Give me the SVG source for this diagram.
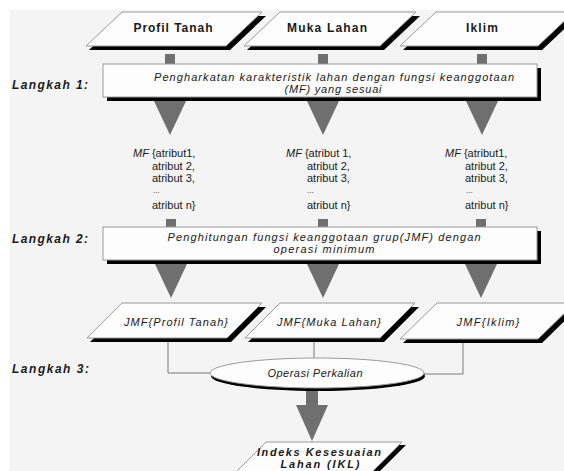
<svg xmlns="http://www.w3.org/2000/svg" width="564" height="471" viewBox="0 0 564 471">
<defs>
<style>
.bg{fill:#f4f4f4}
.shape{fill:#fdfdfd;stroke:#9a9a9a;stroke-width:1}
.shadow{fill:#000}
.arrow{fill:#6f6f6f}
.line{fill:none;stroke:#7a7a7a;stroke-width:1}
.t{font-family:"Liberation Sans",Arial,sans-serif;fill:#1a1a1a}
.hb{font-size:12px;font-weight:bold;text-anchor:middle}
.it{font-size:11px;font-style:italic;text-anchor:middle}
.lk{font-size:12px;font-weight:bold;font-style:italic}
.mf{font-size:11px}
.bi{font-size:11px;font-weight:bold;font-style:italic;text-anchor:middle}
</style>
</defs>
<rect class="bg" x="10" y="10" width="554" height="461"/>

<g id="connectors">
<rect class="arrow" x="165" y="54" width="10" height="10"/>
<rect class="arrow" x="318" y="54" width="10" height="10"/>
<rect class="arrow" x="477" y="54" width="10" height="10"/>
<path class="arrow" d="M164,97h12v4h10l-16,34l-16,-34h10z"/>
<path class="arrow" d="M317,97h12v4h10l-16,34l-16,-34h10z"/>
<path class="arrow" d="M476,97h12v4h10l-16,34l-16,-34h10z"/>
<rect class="arrow" x="166" y="219" width="10" height="10"/>
<rect class="arrow" x="318" y="219" width="10" height="10"/>
<rect class="arrow" x="476" y="219" width="10" height="10"/>
<path class="arrow" d="M165,260h12v4h10l-16,34l-16,-34h10z"/>
<path class="arrow" d="M317,260h12v4h10l-16,34l-16,-34h10z"/>
<path class="arrow" d="M475,260h12v4h10l-16,34l-16,-34h10z"/>
<polyline class="line" points="168,342 168,373 211,373"/>
<line class="line" x1="314" y1="342" x2="314" y2="358"/>
<polyline class="line" points="463,343 463,374 423,374"/>
<path class="arrow" d="M306,391h12v14h10l-16,36l-16,-36h10z"/>
</g>

<g id="profil-tanah">
<polygon class="shadow" points="125,16 266,16 230,50 89,50"/>
<polygon class="shape" points="122,12 262,12 226,46 86,46"/>
<text class="t hb" x="173" y="32" textLength="79" lengthAdjust="spacing">Profil Tanah</text>
</g>
<g id="muka-lahan">
<polygon class="shadow" points="283,16 420,16 384,50 247,50"/>
<polygon class="shape" points="280,12 416,12 380,46 244,46"/>
<text class="t hb" x="327" y="32" textLength="80" lengthAdjust="spacing">Muka Lahan</text>
</g>
<g id="iklim">
<polygon class="shadow" points="439,16 578,16 542,50 403,50"/>
<polygon class="shape" points="436,12 574,12 538,46 400,46"/>
<text class="t hb" x="482" y="32" textLength="32" lengthAdjust="spacing">Iklim</text>
</g>

<g id="langkah1">
<text class="t lk" x="12" y="89" textLength="76" lengthAdjust="spacing">Langkah 1:</text>
</g>
<g id="box1">
<rect class="shadow" x="107" y="68" width="434" height="33"/>
<rect class="shape" x="103" y="64" width="434" height="33"/>
<text class="t it" x="334" y="81" textLength="360" lengthAdjust="spacing">Pengharkatan karakteristik lahan dengan fungsi keanggotaan</text>
<text class="t it" x="333" y="93" textLength="97" lengthAdjust="spacing">(MF) yang sesuai</text>
</g>

<g id="mf1" class="t mf">
<text x="133" y="157"><tspan font-style="italic">MF</tspan> {atribut1,</text>
<text x="152" y="169.5">atribut 2,</text>
<text x="152" y="182">atribut 3,</text>
<text x="153" y="193" font-size="8">...</text>
<text x="152" y="209">atribut n}</text>
</g>
<g id="mf2" class="t mf">
<text x="286" y="157"><tspan font-style="italic">MF</tspan> {atribut 1,</text>
<text x="307" y="169.5">atribut 2,</text>
<text x="307" y="182">atribut 3,</text>
<text x="307" y="193" font-size="8">...</text>
<text x="307" y="209">atribut n}</text>
</g>
<g id="mf3" class="t mf">
<text x="445" y="157"><tspan font-style="italic">MF</tspan> {atribut1,</text>
<text x="465" y="169.5">atribut 2,</text>
<text x="465" y="182">atribut 3,</text>
<text x="466" y="193" font-size="8">...</text>
<text x="465" y="209">atribut n}</text>
</g>

<g id="langkah2">
<text class="t lk" x="12" y="243" textLength="76" lengthAdjust="spacing">Langkah 2:</text>
</g>
<g id="box2">
<rect class="shadow" x="107" y="231" width="434" height="33"/>
<rect class="shape" x="103" y="227" width="434" height="33"/>
<text class="t it" x="324" y="241" textLength="313" lengthAdjust="spacing">Penghitungan fungsi keanggotaan grup(JMF) dengan</text>
<text class="t it" x="324" y="253" textLength="101" lengthAdjust="spacing">operasi minimum</text>
</g>

<g id="jmf-profil">
<polygon class="shadow" points="126,307 266,307 231,342 90,342"/>
<polygon class="shape" points="122,303 262,303 227,338 87,338"/>
<text class="t it" x="176" y="326" font-size="12" textLength="104" lengthAdjust="spacing">JMF{Profil Tanah}</text>
</g>
<g id="jmf-muka">
<polygon class="shadow" points="284,307 419,307 384,342 248,342"/>
<polygon class="shape" points="280,303 415,303 380,338 245,338"/>
<text class="t it" x="329" y="326" font-size="12" textLength="104" lengthAdjust="spacing">JMF{Muka Lahan}</text>
</g>
<g id="jmf-iklim">
<polygon class="shadow" points="441,307 579,307 542,343 403,343"/>
<polygon class="shape" points="437,303 575,303 538,339 400,339"/>
<text class="t it" x="488" y="326" font-size="12" textLength="63" lengthAdjust="spacing">JMF{Iklim}</text>
</g>

<g id="langkah3">
<text class="t lk" x="12" y="373" textLength="77" lengthAdjust="spacing">Langkah 3:</text>
</g>
<g id="operasi-perkalian">
<ellipse class="shadow" cx="318" cy="376" rx="107" ry="15"/>
<ellipse class="shape" cx="317" cy="373" rx="107" ry="15"/>
<text class="t it" x="315" y="377" textLength="95" lengthAdjust="spacing">Operasi Perkalian</text>
</g>

<g id="ikl">
<polygon class="shadow" points="270,445 406,445 369,482 233,482"/>
<polygon class="shape" points="266,442 402,442 365,479 229,479"/>
<text class="t bi" x="319" y="456" textLength="124" lengthAdjust="spacing">Indeks Kesesuaian</text>
<text class="t bi" x="320" y="468" textLength="79" lengthAdjust="spacing">Lahan (IKL)</text>
</g>
</svg>
